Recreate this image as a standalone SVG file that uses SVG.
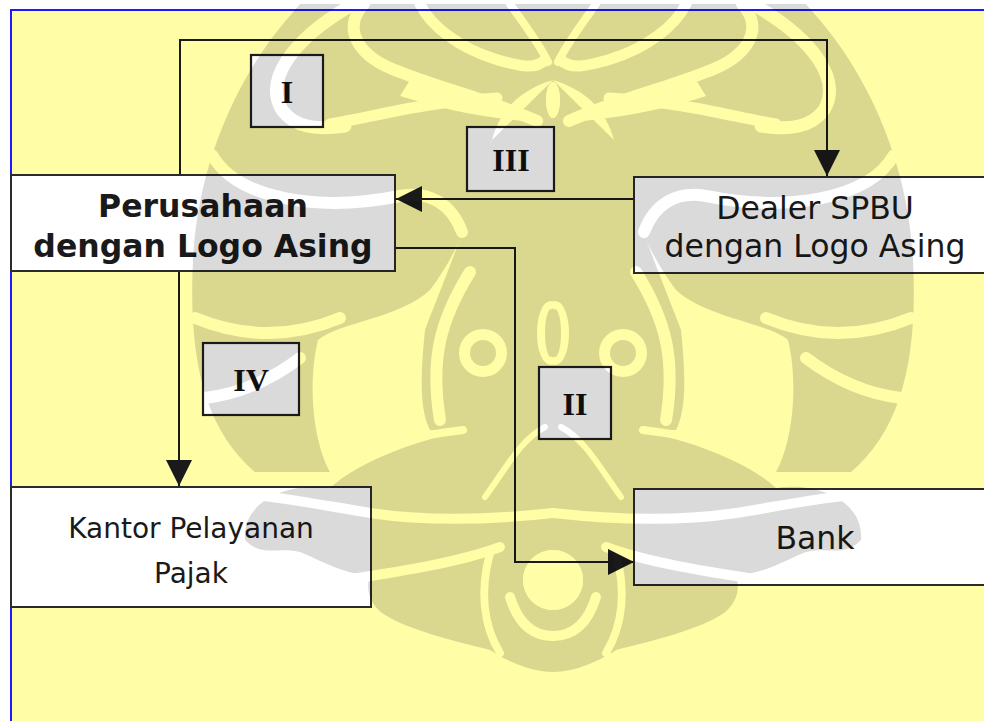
<svg xmlns="http://www.w3.org/2000/svg" xmlns:xlink="http://www.w3.org/1999/xlink" width="984" height="721" viewBox="0 0 984 721">
  <style>
    .box { fill: #ffffff; stroke: #2b2b2b; stroke-width: 2; }
    .lbl { fill: #ffffff; stroke: #1f1f1f; stroke-width: 2.2; }
    .conn { fill: none; stroke: #1a1a1a; stroke-width: 2; }
    .tb { font-family: "DejaVu Sans", Verdana, sans-serif; font-weight: bold; font-size: 31.5px; fill: #1a1a1a; text-anchor: middle; }
    .tr { font-family: "DejaVu Sans", Verdana, sans-serif; font-size: 31.5px; fill: #1a1a1a; text-anchor: middle; }
    .tc { font-family: "DejaVu Sans", "Comic Sans MS", sans-serif; font-size: 28px; fill: #1a1a1a; text-anchor: middle; }
    .tl { font-family: "Liberation Serif", "Times New Roman", serif; font-weight: bold; font-size: 32px; fill: #111111; text-anchor: middle; }
    .wmw { fill: #ffffff; }
    .wmb { fill: none; stroke: #000000; stroke-linecap: round; }
  </style>
  <defs>
    <marker id="arrow" markerUnits="userSpaceOnUse" markerWidth="27" markerHeight="27" refX="26" refY="13" orient="auto" viewBox="0 0 27 27">
      <path d="M0,0 L26,13 L0,26 Z" fill="#1a1a1a"/>
    </marker>
    <g id="wmWhite">
      <path class="wmw" d="M295,10 C240,70 198,160 193,260 C188,360 205,430 255,472 L330,472 C312,440 308,380 318,340 C340,322 400,318 430,290 C460,250 480,200 492,140 C500,110 520,90 553,80 L553,4 L300,4 Z"/>
      <path class="wmw" d="M492,140 C470,220 440,290 425,330 C420,380 420,410 430,430 L553,430 L553,80 Z"/>
      <path class="wmw" d="M245,540 C242,500 290,482 330,488 C360,460 440,425 553,420 L553,672 C530,672 505,660 490,650 C450,640 410,630 385,615 C370,605 365,590 370,575 C345,575 320,560 300,552 C280,546 262,558 245,540 Z"/>
    </g>
    <g id="wmBlack">
      <!-- cheek bands -->
      <path class="wmb" stroke-width="13" d="M350,6 C292,40 264,80 282,110 C295,128 318,130 345,126"/>
      <path class="wmb" stroke-width="12" d="M212,155 C238,200 320,212 400,196 C430,190 452,205 462,232"/>
      <path class="wmb" stroke-width="12" d="M195,318 Q268,348 340,318"/>
      <path class="wmb" stroke-width="12" d="M205,398 Q255,392 300,358"/>
      <!-- pocket -->
      <path d="M320,345 C335,325 390,322 425,300 C418,340 410,385 418,425 C390,440 350,445 330,450 C315,415 312,375 320,345 Z" fill="#000"/>
      <!-- crown leaves -->
      <path class="wmb" stroke-width="12" d="M364,4 C340,30 360,58 400,72 C440,88 490,100 537,121"/>
      <path d="M410,80 C460,88 510,100 540,122 C500,120 450,112 400,96 Z" fill="#000"/>
      <path class="wmb" stroke-width="11" d="M420,4 C430,25 458,48 498,60 C520,66 535,70 545,60"/>
      <path class="wmb" stroke-width="8" d="M510,4 C525,25 540,45 548,62"/>
      <path class="wmb" stroke-width="11" d="M330,124 C370,118 420,102 497,98"/>
      <ellipse cx="553" cy="100" rx="7" ry="18" fill="#000"/>
      <!-- center -->
      <path class="wmb" stroke-width="12" d="M470,272 C440,320 430,360 440,420"/>
      <circle cx="483" cy="353" r="24" fill="#000"/>
      <ellipse cx="555" cy="333" rx="11" ry="29" fill="none" stroke="#000" stroke-width="6"/>
      <path class="wmb" stroke-width="6" d="M545,427 C520,440 505,470 485,497"/>
      <!-- lower jaw -->
      <path class="wmb" stroke-width="8" d="M330,460 C360,448 400,438 463,430"/>
      <path class="wmb" stroke-width="10" d="M220,492 C280,496 320,505 370,513 C430,522 490,520 553,513"/>
      <path class="wmb" stroke-width="10" d="M330,582 C400,572 460,562 500,547"/>
      <circle cx="553" cy="580" r="30" fill="#000"/>
      <path class="wmb" stroke-width="10" d="M510,597 Q522,636 553,636"/>
      <path class="wmb" stroke-width="8" d="M490,553 C480,590 483,625 500,653"/>
    </g>
    <g id="wmWhite2">
      <circle class="wmw" cx="483" cy="353" r="13"/>
      <ellipse class="wmw" cx="555" cy="333" rx="6" ry="24"/>
    </g>
    <mask id="wm" maskUnits="userSpaceOnUse" x="0" y="0" width="984" height="721">
      <use xlink:href="#wmWhite"/>
      <use xlink:href="#wmWhite" transform="translate(1106,0) scale(-1,1)"/>
      <use xlink:href="#wmBlack"/>
      <use xlink:href="#wmBlack" transform="translate(1106,0) scale(-1,1)"/>
      <use xlink:href="#wmWhite2"/>
      <use xlink:href="#wmWhite2" transform="translate(1106,0) scale(-1,1)"/>
    </mask>
  </defs>

  <rect x="0" y="0" width="984" height="721" fill="#ffffff"/>
  <rect x="11" y="10" width="1100" height="1000" fill="#FFFDA6" stroke="#1a1aff" stroke-width="2"/>

  <g id="connectors">
    <path class="conn" d="M180,175 V40 H827 V176" marker-end="url(#arrow)"/>
    <path class="conn" d="M634,199 H396" marker-end="url(#arrow)"/>
    <path class="conn" d="M395,248 H515 V562 H634" marker-end="url(#arrow)"/>
    <path class="conn" d="M179,271 V486" marker-end="url(#arrow)"/>
  </g>

  <g id="node-perusahaan">
    <rect class="box" x="11" y="175" width="384" height="96"/>
    <text class="tb" x="203" y="217">Perusahaan</text>
    <text class="tb" x="203" y="257">dengan Logo Asing</text>
  </g>
  <g id="node-dealer">
    <rect class="box" x="634" y="177" width="361" height="96"/>
    <text class="tr" x="815" y="219">Dealer SPBU</text>
    <text class="tr" x="815" y="257">dengan Logo Asing</text>
  </g>
  <g id="node-kantor">
    <rect class="box" x="11" y="487" width="360" height="120"/>
    <text class="tc" x="191" y="538">Kantor Pelayanan</text>
    <text class="tc" x="191" y="583">Pajak</text>
  </g>
  <g id="node-bank">
    <rect class="box" x="634" y="489" width="361" height="96"/>
    <text class="tr" x="815" y="549">Bank</text>
  </g>

  <g id="label-I">
    <rect class="lbl" x="251" y="55" width="72" height="72"/>
    <text class="tl" x="287" y="103">I</text>
  </g>
  <g id="label-II">
    <rect class="lbl" x="539" y="367" width="72" height="72"/>
    <text class="tl" x="575" y="415">II</text>
  </g>
  <g id="label-III">
    <rect class="lbl" x="467" y="127" width="87" height="64"/>
    <text class="tl" x="511" y="171">III</text>
  </g>
  <g id="label-IV">
    <rect class="lbl" x="203" y="343" width="96" height="72"/>
    <text class="tl" x="251" y="391">IV</text>
  </g>

  <g id="watermark">
    <rect x="0" y="0" width="984" height="721" fill="#000000" fill-opacity="0.145" mask="url(#wm)"/>
  </g>
</svg>
